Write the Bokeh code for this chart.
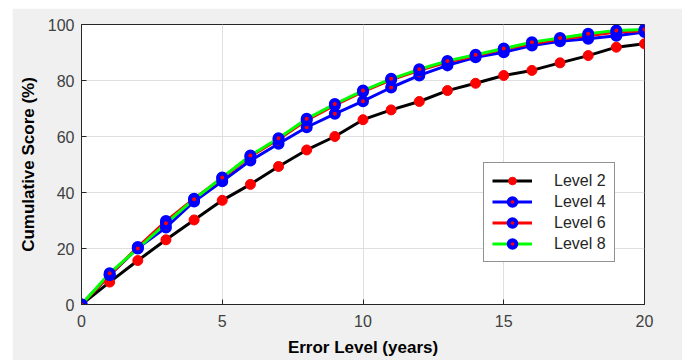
from bokeh.plotting import figure
from bokeh.models import Legend, LegendItem, FixedTicker
from bokeh.embed import file_html
from bokeh.resources import INLINE

x = list(range(21))
level2 = [0, 8.0, 15.7, 23.1, 30.2, 37.2, 42.9, 49.3, 55.2, 60.0, 66.0, 69.5, 72.5, 76.4, 79.0, 81.8, 83.6, 86.3, 88.9, 91.9, 93.1]
level4 = [0, 10.5, 20.2, 27.5, 36.8, 44.0, 51.4, 57.4, 63.3, 68.1, 72.6, 77.5, 81.8, 85.4, 88.3, 90.1, 92.5, 94.0, 94.9, 96.0, 97.3]
level6 = [0, 10.5, 20.5, 29.8, 37.8, 45.2, 52.9, 59.0, 65.8, 71.2, 76.0, 80.2, 83.6, 86.6, 88.8, 91.2, 93.1, 94.8, 96.0, 97.3, 97.8]
level8 = [0, 11.2, 20.0, 29.0, 37.6, 45.4, 53.2, 59.4, 66.3, 71.6, 76.4, 80.6, 84.0, 87.0, 89.2, 91.4, 93.7, 95.2, 96.7, 97.9, 98.2]
names = ["Level 2", "Level 4", "Level 6", "Level 8"]
x_ticks = [0, 5, 10, 15, 20]
y_ticks = [0, 20, 40, 60, 80, 100]

FONT = "Liberation Sans"
TXT = "#262626"

p = figure(width=670, height=352, output_backend="svg", toolbar_location=None,
           x_range=(0, 20), y_range=(0, 100),
           min_border_left=69, min_border_right=38, min_border_top=16, min_border_bottom=56,
           background_fill_color="white", border_fill_color="#F0F0F0")
p.margin = (8, 0, 0, 12)

p.outline_line_color = TXT
p.outline_line_width = 1
p.outline_line_alpha = 1

for ax, ticks in ((p.xaxis, x_ticks), (p.yaxis, y_ticks)):
    ax.ticker = FixedTicker(ticks=ticks)
    ax.axis_line_color = TXT
    ax.major_tick_line_color = TXT
    ax.major_tick_in = 5
    ax.major_tick_out = 0
    ax.minor_tick_line_color = None
    ax.major_label_text_font = FONT
    ax.major_label_text_font_size = "16px"
    ax.major_label_text_color = "#404040"
    ax.axis_label_text_font = FONT
    ax.axis_label_text_font_size = "17px"
    ax.axis_label_text_font_style = "bold"
    ax.axis_label_text_color = "black"

p.xaxis.axis_label = "Error Level (years)"
p.yaxis.axis_label = "Cumulative Score (%)"
p.xaxis.major_label_standoff = 10
p.yaxis.major_label_standoff = 7
p.xaxis.axis_label_standoff = 8
p.yaxis.axis_label_standoff = 7

p.xgrid.grid_line_color = "#DFDFDF"
p.ygrid.grid_line_color = "#DFDFDF"

series = [level2, level4, level6, level8]
line_colors = ["black", "blue", "red", "#00FF00"]
lines = []
for ys, c in zip(series, line_colors):
    lines.append(p.line(x, ys, line_color=c, line_width=3))

marks = []
marks.append(p.scatter(x, level2, marker="circle", size=10, fill_color="red", line_color="red", line_width=1))
for ys in (level4, level6, level8):
    marks.append(p.scatter(x, ys, marker="circle", size=8, fill_color="red", line_color="blue", line_width=4))

items = [LegendItem(label=n, renderers=[l, m]) for n, l, m in zip(names, lines, marks)]
legend = Legend(items=items, location=(402, 42),
                label_text_font=FONT, label_text_font_size="16px", label_text_color=TXT,
                glyph_width=40, glyph_height=19, spacing=2, label_standoff=22,
                padding=8, margin=0,
                border_line_color=TXT, border_line_width=1,
                background_fill_color="white", background_fill_alpha=1)
p.add_layout(legend)

open("out.html", "w").write(file_html(p, INLINE))
